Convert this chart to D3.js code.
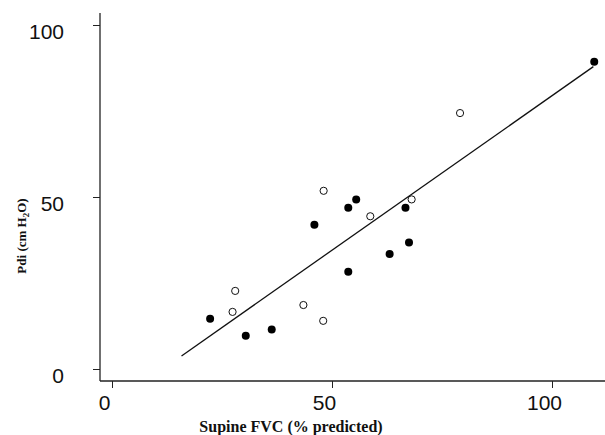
<html>
<head>
<script src="https://d3js.org/d3.v7.min.js"></script>
<style>
	body{ margin:0; background:#fff;}
	.tick text{ font-family:"Liberation Sans", Arial, sans-serif; font-size:21px; fill:#111;}
	.title{ font-family:"Liberation Serif", "Times New Roman", serif; font-weight:bold; fill:#111;}
</style>
</head>
<body>
<script>

// filled circles
var filledX = [22.3, 30.4, 36.3, 46.0, 53.7, 55.5, 53.7, 63.1, 66.7, 67.5, 109.6];
var filledY = [14.6, 9.7, 11.5, 41.9, 46.9, 49.3, 28.3, 33.4, 46.9, 36.8, 89.3];
// open circles
var openX = [28.0, 27.4, 43.5, 48.0, 48.1, 58.7, 68.1, 79.1];
var openY = [22.7, 16.6, 18.6, 14.0, 51.8, 44.4, 49.3, 74.4];
// regression line ends
var fitX = [15.8, 109.4];
var fitY = [3.8, 87.9];

var xTicks = [0, 50, 100];
var yTicks = [0, 50, 100];

var width = 605,
	height = 435;

var svg = d3.select("body")
	.append("svg")
	.attr("width", width)
	.attr("height", height);

var x = d3.scaleLinear().domain([0, 100]).range([112, 552]);
var y = d3.scaleLinear().domain([0, 100]).range([369, 25]);

var axisY0 = 381, axisX0 = 100;

// axes lines
svg.append("line")
	.attr("x1", axisX0).attr("x2", axisX0)
	.attr("y1", 13).attr("y2", axisY0)
	.attr("stroke", "#222").attr("stroke-width", 1.3);
svg.append("line")
	.attr("x1", axisX0).attr("x2", 605)
	.attr("y1", axisY0).attr("y2", axisY0)
	.attr("stroke", "#222").attr("stroke-width", 1.3);

var xAxis = svg.append("g")
	.attr("transform", "translate(0," + axisY0 + ")")
	.call(d3.axisBottom(x).tickValues(xTicks).tickSize(7).tickPadding(7));
xAxis.select(".domain").remove();
xAxis.selectAll(".tick line").attr("stroke", "#222");
xAxis.selectAll(".tick text").attr("dx", -8);

var yAxis = svg.append("g")
	.attr("transform", "translate(" + axisX0 + ",0)")
	.call(d3.axisLeft(y).tickValues(yTicks).tickSize(7).tickPadding(29));
yAxis.select(".domain").remove();
yAxis.selectAll(".tick line").attr("stroke", "#222");
yAxis.selectAll(".tick text").attr("dy", "0.62em");

// fit line
svg.append("line")
	.attr("x1", x(fitX[0])).attr("y1", y(fitY[0]))
	.attr("x2", x(fitX[1])).attr("y2", y(fitY[1]))
	.attr("stroke", "#111").attr("stroke-width", 1.3);

svg.append("g").selectAll("circle")
	.data(d3.zip(openX, openY))
	.enter().append("circle")
	.attr("cx", function(d){ return x(d[0]); })
	.attr("cy", function(d){ return y(d[1]); })
	.attr("r", 3.6)
	.attr("fill", "#fff")
	.attr("stroke", "#111")
	.attr("stroke-width", 1);

svg.append("g").selectAll("circle")
	.data(d3.zip(filledX, filledY))
	.enter().append("circle")
	.attr("cx", function(d){ return x(d[0]); })
	.attr("cy", function(d){ return y(d[1]); })
	.attr("r", 4)
	.attr("fill", "#000");

svg.append("text")
	.attr("class", "title")
	.attr("x", 291).attr("y", 432)
	.attr("text-anchor", "middle")
	.style("font-size", "16px")
	.text("Supine FVC (% predicted)");

var yt = svg.append("text")
	.attr("class", "title")
	.attr("transform", "translate(26,236) rotate(-90)")
	.attr("text-anchor", "middle")
	.style("font-size", "13px");
yt.append("tspan").text("Pdi (cm H");
yt.append("tspan").attr("font-size", "9px").attr("dy", "3").text("2");
yt.append("tspan").attr("dy", "-3").text("O)");

</script>
</body>
</html>
